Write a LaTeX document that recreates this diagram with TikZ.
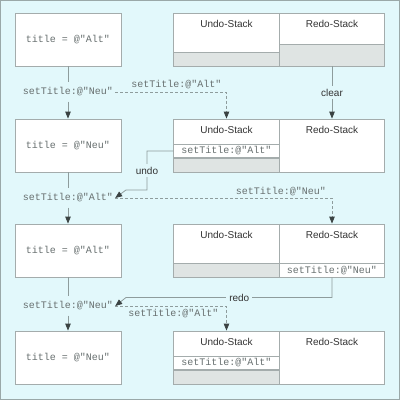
\documentclass[tikz,border=0pt]{standalone}
\usepackage{fontspec}
\newfontfamily\monofont{Liberation Mono}
\newfontfamily\labelfont{Liberation Sans}
\usepackage{tikz}
\usetikzlibrary{arrows.meta}

\definecolor{bgc}{HTML}{E2F8FB}
\definecolor{framec}{HTML}{9AA8A8}
\definecolor{boxc}{HTML}{A4ACAC}
\definecolor{bandc}{HTML}{DFE4E3}
\definecolor{linec}{HTML}{8E9C9C}
\definecolor{tipc}{HTML}{3A4242}
\definecolor{textc}{HTML}{687070}

\tikzset{
  titlebox/.style={draw=boxc, fill=white, line width=0.8pt, minimum width=106pt,
    minimum height=53pt, font=\monofont, text=textc},
  stackbox/.style={draw=boxc, fill=white, line width=0.8pt, minimum width=105.5pt,
    minimum height=53pt, inner sep=0pt},
  stacklabel/.style={anchor=north, inner sep=0pt, yshift=-7pt, font=\labelfont, text=black!80},
  band/.style={draw=boxc, fill=bandc, line width=0.8pt, minimum width=105.5pt,
    minimum height=13.5pt, inner sep=0pt},
  row/.style={band, fill=white, font=\monofont, text=textc},
  lbl/.style={font=\monofont, text=textc, inner xsep=2pt, inner ysep=5pt},
  cmd/.style={font=\labelfont, text=black!80, fill=bgc, inner sep=3pt},
  conn/.style={draw=linec, line width=0.8pt},
  arr/.style={conn, -{Triangle[length=7pt,width=5.5pt,color=tipc]}},
  dsh/.style={arr, dash pattern=on 3pt off 2pt}
}

\begin{document}
\begin{tikzpicture}[x=1pt, y=-1pt]
  \useasboundingbox (0,0) rectangle (400,400);
  \draw[framec, fill=bgc, line width=1pt] (0.5,0.5) rectangle (399.5,399.5);

  % object state and both stacks, four steps
  \foreach \i/\y/\t in {1/39.5/Alt, 2/145.5/Neu, 3/250.5/Alt, 4/357.5/Neu} {
    \node[titlebox] (t\i) at (68,\y) {title = @"\t"};
    \node[stackbox, label={[stacklabel]north:Undo-Stack}] (u\i) at (226.5,\y) {};
    \node[stackbox, label={[stacklabel]north:Redo-Stack}] (r\i) at (332,\y) {};
  }

  % stack contents
  \node[band, anchor=south] (u1b) at (u1.south) {};
  \node[band, anchor=south, minimum height=22pt] (r1b) at (r1.south) {};
  \node[band, anchor=south] (u2b) at (u2.south) {};
  \node[row, anchor=south] (u2row) at (u2b.north) {setTitle:@"Alt"};
  \node[band, anchor=south] (u3b) at (u3.south) {};
  \node[row, anchor=south] (r3row) at (r3.south) {setTitle:@"Neu"};
  \node[band, anchor=south] (u4b) at (u4.south) {};
  \node[row, anchor=south] (u4row) at (u4b.north) {setTitle:@"Alt"};

  % messages
  \node[lbl] (m1) at (68,92) {setTitle:@"Neu"};
  \node[lbl, inner ysep=1pt] (m1u) at (176.5,85) {setTitle:@"Alt"};
  \node[lbl] (m2) at (68,198) {setTitle:@"Alt"};
  \node[lbl, inner ysep=1pt] (m2r) at (281,191.5) {setTitle:@"Neu"};
  \node[lbl] (m3) at (68,306) {setTitle:@"Neu"};
  \node[lbl, inner ysep=1pt] (m3u) at (173.5,314) {setTitle:@"Alt"};

  % step 1: set
  \draw[conn] (t1) -- (m1);
  \draw[arr] (m1) -- (t2);
  \draw[dsh] (m1.east) -| (u2);
  \draw[arr] (r1b) -- node[cmd] {clear} (r2);

  % step 2: undo
  \coordinate (ubend) at (147,190);
  \draw[conn] (t2) -- (m2);
  \draw[arr] (m2) -- (t3);
  \draw[arr] (u2row.west) -| node[cmd, pos=0.75] {undo} (ubend) -- ++(-21,0) -- (m2.east);
  \draw[dsh] (m2.east) -| (r3);

  % step 3: redo
  \coordinate (rbend) at (126,297.5);
  \draw[conn] (t3) -- (m3);
  \draw[arr] (m3) -- (t4);
  \draw[arr] (r3row.south) |- node[cmd, pos=0.725] {redo} (rbend) -- (m3.east);
  \draw[dsh] (m3.east) -| (u4);
\end{tikzpicture}
\end{document}
